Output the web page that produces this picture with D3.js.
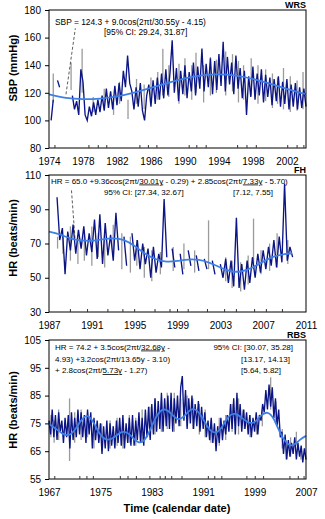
<!DOCTYPE html>
<html>
<head>
<meta charset="utf-8">
<script src="https://cdn.jsdelivr.net/npm/d3@7"></script>
<style>
  body { margin: 0; background: #fff; }
  svg text { font-family: "Liberation Sans", Arial, sans-serif; fill: #000; }
</style>
</head>
<body>
<div id="chart"></div>
<script>
// ---- WRS : systolic blood pressure ----
const sbpStart = 1974.25, sbpStep = 0.25;
const sbpNavy = [
  100, 115, null, 129, 124, null, null, null, null, null,
  118, 108, 114, 104, 137, 128, 104, 100, 110, 103, 113, 104,
  115, 106, 118, 107, 123, 109, 121, 108, 125, 111, 127, 114,
  136, 124, 147, 127, 121, 108, 124, 110, 127, 107, 100, 118,
  126, 110, 129, 112, 131, 115, 134, 116, 137, 118, 135, 158,
  120, 138, 114, 136, 119, 140, 116, 135, 121, 142, 118, 139,
  123, 152, 121, 141, 124, 145, 119, 143, 122, 148, 125, 157,
  121, 146, 126, 142, 119, 147, 123, 138, 116, 136, 104, 132,
  117, 139, 115, 134, 118, 137, 113, 133, 117, 131, 111, 130,
  114, 132, 110, 128, 112, 130, 108, 126, 110, 127, 108, 124,
  109, 123, 110
];
const sbpGrayYears = [1974.5, 1976.6, 1977.9, 1979.2, 1980.5, 1981.6, 1982.3, 1983.3, 1984.3, 1985.2,
  1986.0, 1986.8, 1987.4, 1988.1, 1989.3, 1990.0, 1990.8, 1991.3, 1992.2, 1993.0, 1993.7, 1994.8,
  1995.6, 1996.3, 1996.9, 1997.8, 1998.6, 1999.5, 2000.3, 2000.9, 2001.6, 2002.4, 2003.2, 2003.9];
const sbpGrayLo = [113, 122, 120, 106, 110, 104, 112, 101, 112, 108, 113, 115, 118, 117, 112, 118, 115,
  120, 113, 118, 120, 118, 121, 113, 115, 118, 112, 114, 109, 112, 108, 106, 107, 108];
const sbpGrayHi = [134, 142, 152, 117, 123, 118, 128, 115, 130, 126, 131, 135, 152, 140, 141, 145, 140,
  149, 140, 146, 144, 150, 148, 143, 140, 145, 140, 137, 134, 131, 138, 132, 129, 135];
const sbpFitYears = [1974, 1976, 1978, 1980, 1982, 1984, 1986, 1988, 1990, 1992, 1994, 1996, 1998, 2000, 2002, 2004.25];
const sbpFit = [118.8, 116.3, 115.4, 115.8, 117.4, 120.2, 123.6, 127.2, 130.4, 132.6, 133.3, 132.4, 130.0, 126.6, 122.9, 119.0];
const sbpMarks = [1974.7, 1978.7, 1979.8, 1980.8, 1984.7, 1985.7, 1986.7, 1990.5, 1991.4, 1992.5,
  1996.2, 1997.3, 1998.4, 2002.1, 2003.2, 2004.0];
const sbpYTicks = [180, 160, 140, 120, 100, 80];
const sbpXTicks = [1974, 1978, 1982, 1986, 1990, 1994, 1998, 2002];

// ---- FH : heart rate ----
const fhStart = 1987.75, fhStep = 0.25;
const fhNavy = [
  97, 72, 79, 52, 77, 66, 81, 64, 78, 67, 80, 63, 76, 65, 84, 61, 87, 58, 82, 63,
  75, 60, 88, 66, null, 74, 57, null, 76, 60, 72, 55, 70, 58, 67, 50, 68, 53, 64, 56,
  96, 62, null, 67, 56, null, 64, 52, null, 66, 57, null, 63, 54, null, 61, 55, null,
  60, 52, null, 58, 50, 61, 47, 60, 45, 85, 44, 58, 43, 60, 47, 62, 50, 64, 53, 66,
  55, 68, 57, 72, 56, 74, 59, 105, 60, 68, 62
];
const fhGrayYears = [1987.8, 1988.3, 1989.0, 1989.7, 1990.3, 1991.0, 1991.6, 1992.2, 1993.0, 1993.8,
  1994.6, 1995.2, 1995.9, 1996.6, 1997.4, 1998.6, 1999.6, 2000.6, 2001.9, 2003.5, 2004.1, 2004.9,
  2005.6, 2006.1, 2006.8, 2007.6, 2008.3, 2009.3];
const fhGrayLo = [67, 64, 60, 58, 60, 57, 62, 56, 62, 55, 53, 57, 50, 48, 52, 54, 55, 53, 55, 48, 44,
  42, 46, 55, 52, 54, 56, 58];
const fhGrayHi = [74, 75, 80, 75, 78, 80, 76, 78, 81, 76, 74, 72, 68, 66, 65, 68, 70, 66, 83.5, 62, 60,
  59, 63, 84.5, 66, 70, 76, 72];
const fhFitYears = [1987, 1988, 1989, 1990, 1991, 1992, 1993, 1994, 1995, 1996, 1997, 1998, 1999, 2000,
  2001, 2002, 2003, 2004, 2005, 2006, 2007, 2008, 2009, 2009.7];
const fhFit = [76.9, 75.3, 73.0, 71.8, 71.6, 72.4, 73.0, 72.0, 68.5, 64.0, 60.8, 59.4, 59.8, 60.6,
  60.4, 58.7, 56.0, 53.8, 53.8, 56.0, 59.4, 62.3, 63.8, 64.3];
const fhMarks = [1989.0, 1990.6, 1992.5, 1993.9, 1995.0, 1996.9, 1998.3, 1999.0, 2000.0, 2001.8,
  2003.4, 2004.5, 2006.2, 2007.3, 2008.8];
const fhYTicks = [110, 90, 70, 50, 30];
const fhXTicks = [1987, 1991, 1995, 1999, 2003, 2007, 2011];

// ---- RBS : heart rate ----
const rbsStart = 1967, rbsStep = 0.25;
const rbsNavy = [
  76, 71, 80, 70, 78, 69, 79, 72, 76, 68, 77, 70, 78, 66, 79, 69,
  77, 70, 80, 71, 79, 70, 78, 68, 80, 71, 79, 66, 77, 69, 76, 68,
  75, 64, 74, 66, 76, 65, 75, 67, 74, 66, 76, 68, 77, 67, 78, 66,
  75, 68, 77, 67, 78, 67, 76, 69, 79, 68, 77, 67, 80, 70, 81, 69,
  82, 71, 84, 72, 83, 73, 86, 72, 84, 74, 85, 73, 86, 72, 84, 75,
  85, 74, 88, 92, 76, 87, 73, 84, 75, 85, 73, 82, 74, 83, 72, 81,
  73, 79, 70, 76, 69, 77, 68, 75, 65, 74, 68, 77, 69, 76, 71, 78,
  72, 82, 73, 84, 71, 86, 74, 82, 72, 80, 73, 79, 71, 78, 70, 77,
  72, 79, 71, 78, 76, 82, 79, 87, 80, 89, 81, 88, 77, 84, 74, 80,
  70, 72, 64, 71, 62, 69, 63, 68, 64, 70, 62, 68, 63, 67, 61, 66,
  62
];
const rbsGrayYears = [1967.3, 1967.8, 1968.5, 1970.2, 1971.0, 1972.0, 1973.0, 1974.0, 1975.2, 1976.5,
  1977.6, 1978.5, 1979.5, 1980.5, 1981.5, 1982.7, 1983.5, 1984.5, 1985.4, 1986.5, 1987.5, 1988.5,
  1989.4, 1990.4, 1991.3, 1992.2, 1993.5, 1994.5, 1995.5, 1996.5, 1997.4, 1998.3, 1999.3, 2000.2,
  2001.5, 2002.3, 2003.3, 2003.9, 2004.6, 2005.5, 2006.2];
const rbsGrayLo = [70, 68, 69, 61.5, 68, 69, 70, 66, 65, 66, 67, 66, 68, 67, 68, 70, 71, 72, 73, 72, 74,
  74, 73, 71, 70, 68, 67, 69, 72, 71, 73, 70, 71, 74, 80, 75, 66, 62, 63, 67, 62];
const rbsGrayHi = [78, 76, 80, 84, 79, 80, 79, 76, 75, 76, 77, 76, 78, 77, 80, 81, 84, 83, 86, 86, 84,
  85, 84, 82, 80, 76, 77, 78, 82, 84, 80, 78, 78, 80, 91.6, 83, 73, 69, 70, 72, 66];
const rbsFitYears = d3.range(1967, 2008);
const rbsFit = [74.8, 73.2, 71.5, 70.8, 72.6, 76.0, 77.6, 75.0, 71.0, 69.2, 69.8, 71.5, 71.8, 70.0,
  68.2, 69.5, 74.0, 78.5, 80.0, 78.5, 76.6, 77.5, 79.8, 79.6, 76.5, 72.8, 71.8, 74.0, 77.5, 78.4,
  77.0, 75.4, 75.5, 77.8, 78.8, 76.5, 71.5, 68.0, 67.2, 69.0, 70.5];
const rbsMarks = [1967.9, 1971.8, 1972.9, 1973.9, 1978.1, 1979.3, 1980.6, 1982.7, 1984.3, 1985.1,
  1986.1, 1987.7, 1991.8, 1992.8, 1993.9, 1997.8, 1999.1, 2000.4, 2004.5, 2005.8, 2006.7];
const rbsYTicks = [105, 95, 85, 75, 65, 55];
const rbsXTicks = [1967, 1975, 1983, 1991, 1999, 2007];

const W = 325, H = 519;
const plotLeft = 49, plotRight = 306;
const navyColor = "#0b1585", grayColor = "#9b9b9b", fitColor = "#3f80e6";

const svg = d3.select("#chart").append("svg")
    .attr("width", W)
    .attr("height", H);

const panels = [
  { top: 10, bottom: 148, xDomain: [1974, 2004.25], yDomain: [80, 180], yTicks: sbpYTicks, xTicks: sbpXTicks,
    start: sbpStart, step: sbpStep, navy: sbpNavy, grayYears: sbpGrayYears, grayLo: sbpGrayLo, grayHi: sbpGrayHi,
    fitYears: sbpFitYears, fit: sbpFit, marks: sbpMarks, label: "WRS", title: "SBP (mmHg)", titleY: 68 },
  { top: 175, bottom: 312, xDomain: [1987, 2011], yDomain: [30, 110], yTicks: fhYTicks, xTicks: fhXTicks,
    start: fhStart, step: fhStep, navy: fhNavy, grayYears: fhGrayYears, grayLo: fhGrayLo, grayHi: fhGrayHi,
    fitYears: fhFitYears, fit: fhFit, marks: fhMarks, label: "FH", title: "HR (beats/min)", titleY: 238 },
  { top: 340, bottom: 479, xDomain: [1967, 2007], yDomain: [55, 105], yTicks: rbsYTicks, xTicks: rbsXTicks,
    start: rbsStart, step: rbsStep, navy: rbsNavy, grayYears: rbsGrayYears, grayLo: rbsGrayLo, grayHi: rbsGrayHi,
    fitYears: rbsFitYears, fit: rbsFit, marks: rbsMarks, label: "RBS", title: "HR (beats/min)", titleY: 410 }
];

panels.forEach(p => {
  p.x = d3.scaleLinear().domain(p.xDomain).range([plotLeft, plotRight]);
  p.y = d3.scaleLinear().domain(p.yDomain).range([p.bottom, p.top]);
  const g = svg.append("g");

  // Gray spikes behind the series.
  g.selectAll("line.gray")
    .data(p.grayYears)
    .join("line")
    .attr("class", "gray")
    .attr("x1", d => p.x(d)).attr("x2", d => p.x(d))
    .attr("y1", (d, i) => p.y(p.grayLo[i]))
    .attr("y2", (d, i) => p.y(p.grayHi[i]))
    .attr("stroke", grayColor)
    .attr("stroke-width", 1.3);

  // Navy measured series.
  const line = d3.line()
    .defined(d => d != null)
    .x((d, i) => p.x(p.start + i * p.step))
    .y(d => p.y(d));
  g.append("path")
    .attr("d", line(p.navy))
    .attr("fill", "none")
    .attr("stroke", navyColor)
    .attr("stroke-width", 1.35);

  // Fitted cosinor curve.
  const fitLine = d3.line()
    .x((d, i) => p.x(p.fitYears[i]))
    .y(d => p.y(d))
    .curve(d3.curveNatural);
  g.append("path")
    .attr("d", fitLine(p.fit))
    .attr("fill", "none")
    .attr("stroke", fitColor)
    .attr("stroke-width", 1.8);

  // Frame.
  g.append("rect")
    .attr("x", plotLeft).attr("y", p.top)
    .attr("width", plotRight - plotLeft).attr("height", p.bottom - p.top)
    .attr("fill", "none").attr("stroke", "#000").attr("stroke-width", 1);

  // Small marks on the time axis.
  g.selectAll("line.mark")
    .data(p.marks)
    .join("line")
    .attr("class", "mark")
    .attr("x1", d => p.x(d)).attr("x2", d => p.x(d))
    .attr("y1", p.bottom).attr("y2", p.bottom - 3)
    .attr("stroke", "#333");

  // Axes.
  const yAxis = g.append("g")
    .attr("transform", `translate(${plotLeft},0)`)
    .call(d3.axisLeft(p.y).tickValues(p.yTicks).tickSize(4).tickPadding(4));
  const xAxis = g.append("g")
    .attr("transform", `translate(0,${p.bottom})`)
    .call(d3.axisBottom(p.x).tickValues(p.xTicks).tickSize(0).tickPadding(10).tickFormat(d3.format("d")));
  [yAxis, xAxis].forEach(a => {
    a.select(".domain").remove();
    a.selectAll("text").attr("font-size", 10).attr("font-family", null);
  });

  // Panel label and axis title.
  g.append("text")
    .attr("x", plotRight).attr("y", p.top - 2.5)
    .attr("text-anchor", "end")
    .attr("font-size", 9).attr("font-weight", "bold")
    .text(p.label);
  g.append("text")
    .attr("transform", `translate(17,${p.titleY}) rotate(-90)`)
    .attr("text-anchor", "middle")
    .attr("font-size", 11).attr("font-weight", "bold")
    .text(p.title);
});

// Equation annotations.
function note(x, y, parts, anchor, size) {
  const t = svg.append("text")
    .attr("x", x).attr("y", y)
    .attr("font-size", size || 8)
    .attr("text-anchor", anchor || "start");
  parts.forEach(s => {
    const u = typeof s !== "string";
    t.append("tspan")
      .attr("text-decoration", u ? "underline" : null)
      .text(u ? s.u : s);
  });
}

note(55, 24.5, ["SBP = 124.3 + 9.0cos(2\u03c0t/30.55y - 4.15)"], "start", 8.4);
note(104, 34.5, ["[95% CI: 29.24, 31.87]"], "start", 8.4);

note(51, 183.5, ["HR = 65.0 +9.36cos(2\u03c0t/", { u: "30.01y" }, " - 0.29) + 2.85cos(2\u03c0t/", { u: "7.33y" }, " - 5.70)"]);
note(104, 194.5, ["95% CI: [27.34, 32.67]"]);
note(233, 194.5, ["[7.12, 7.55]"]);

note(55, 349.5, ["HR = 74.2 + 3.5cos(2\u03c0t/", { u: "32.68y" }, " -"]);
note(55, 361.5, ["4.93) +3.2cos(2\u03c0t/13.65y - 3.10)"]);
note(55, 373, ["+ 2.8cos(2\u03c0t/", { u: "5.73y" }, " - 1.27)"]);
note(293, 349.5, ["95% CI: [30.07, 35.28]"], "end");
note(241, 361.5, ["[13.17, 14.13]"]);
note(241, 373, ["[5.64, 5.82]"]);

// Dashed leader lines from the equations to the curves.
const p1 = panels[0], p2 = panels[1];
svg.append("line")
  .attr("x1", p1.x(1976.0)).attr("y1", p1.y(118.9))
  .attr("x2", p1.x(1977.1)).attr("y2", p1.y(166.7))
  .attr("stroke", "#333").attr("stroke-width", 0.8).attr("stroke-dasharray", "3,2");
svg.append("line")
  .attr("x1", p2.x(1989.1)).attr("y1", p2.y(101))
  .attr("x2", p2.x(1989.43)).attr("y2", p2.y(72.8))
  .attr("stroke", "#333").attr("stroke-width", 0.8).attr("stroke-dasharray", "3,2");

// Shared time axis title.
svg.append("text")
  .attr("x", 177).attr("y", 512)
  .attr("text-anchor", "middle")
  .attr("font-size", 11).attr("font-weight", "bold")
  .text("Time (calendar date)");
</script>
</body>
</html>
